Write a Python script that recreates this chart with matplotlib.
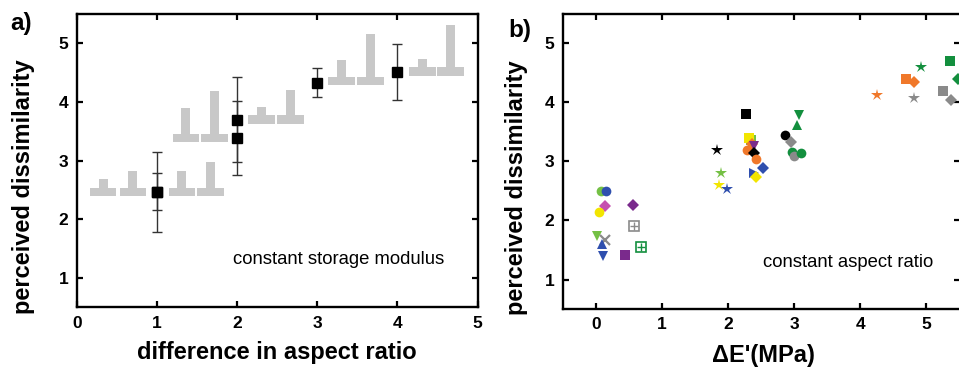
import numpy as np
import matplotlib
matplotlib.use("Agg")
import matplotlib.pyplot as plt

plt.rcParams["font.family"] = ["Liberation Sans", "DejaVu Sans"]

# ── Panel a: constant storage modulus ──────────────────────────────────────
ar_diff = [1, 1, 2, 2, 3, 4]
ar_dissim = [2.47, 2.47, 3.70, 3.38, 4.33, 4.51]
ar_err = [0.68, 0.32, 0.72, 0.63, 0.24, 0.48]

# pictograms of the compared pillar shapes (base centre x, base y, stem top)
shape_x = [0.33, 0.70, 1.31, 1.67, 1.36, 1.72, 2.305, 2.665, 3.305, 3.665, 4.315, 4.665]
shape_y = [2.47, 2.47, 2.47, 2.47, 3.38, 3.38, 3.70, 3.70, 4.35, 4.35, 4.52, 4.52]
shape_top = [2.69, 2.83, 2.83, 2.97, 3.89, 4.19, 3.92, 4.21, 4.72, 5.15, 4.74, 5.32]

# ── Panel b: constant aspect ratio ─────────────────────────────────────────
dE = [0.07, 0.15, 0.13, 0.05, 0.56, 0.57, 0.02, 0.13, 0.09, 0.11, 0.44, 0.68,
      1.84, 1.90, 1.87, 1.98, 2.27, 2.35, 2.32, 2.29, 2.37, 2.39, 2.39, 2.43,
      2.53, 2.40, 2.43,
      2.86, 2.95, 2.97, 3.00, 3.11, 3.07, 3.05,
      4.26, 4.69, 4.81, 4.82, 4.93, 5.25, 5.38, 5.36, 5.48]
dE_dissim = [2.50, 2.50, 2.24, 2.15, 2.27, 1.90, 1.73, 1.67, 1.61, 1.40, 1.41, 1.55,
             3.20, 2.80, 2.60, 2.53, 3.80, 3.36, 3.40, 3.19, 3.30, 3.26, 3.15, 3.05,
             2.89, 2.81, 2.74,
             3.45, 3.33, 3.16, 3.10, 3.15, 3.79, 3.61,
             4.13, 4.40, 4.34, 4.07, 4.60, 4.20, 4.05, 4.70, 4.40]
dE_color = ["lgreen", "blue", "magenta", "yellow", "purple", "gray", "lgreen", "gray",
            "blue", "blue", "purple", "green",
            "black", "lgreen", "yellow", "blue", "black", "lgreen", "yellow", "orange",
            "orange", "purple", "black", "orange", "blue", "blue", "yellow",
            "black", "gray", "green", "gray", "green", "green", "green",
            "orange", "orange", "orange", "gray", "green", "gray", "gray", "green", "green"]
dE_marker = ["o", "o", "D", "o", "D", "grid", "v", "x", "^", "v", "s", "grid",
             "*", "*", "*", "*", "s", "s", "s", "o", "D", "v", "D", "o", "D", ">", "D",
             "o", "D", "o", "o", "o", "v", "^",
             "*", "s", "D", "*", "*", "s", "D", "s", "D"]

palette = {
    "green": "#138f3e", "lgreen": "#74c044", "blue": "#2f4fae", "orange": "#f0782a",
    "yellow": "#f2e500", "magenta": "#c651b0", "purple": "#7a2a8c",
    "gray": "#8a8a8a", "black": "#000000",
}
msize = {"o": 7, "s": 6.5, "D": 6, "^": 7.5, "v": 7.5, ">": 7, "*": 9, "x": 7, "grid": 6.5}

fig = plt.figure(figsize=(9.59, 3.67), dpi=100)
ax_a = fig.add_axes([0.080, 0.163, 0.418, 0.799])
ax_b = fig.add_axes([0.587, 0.158, 0.4145, 0.804])


def style_axes(ax):
    for sp in ax.spines.values():
        sp.set_linewidth(1.7)
    ax.tick_params(direction="in", length=4.5, width=1.6, top=True, right=True,
                   labelsize=12.5, pad=6)
    for lab in ax.get_xticklabels() + ax.get_yticklabels():
        lab.set_fontweight("bold")
    ax.set_ylim(0.5, 5.5)
    ax.set_yticks([1, 2, 3, 4, 5])


# ── a) ──
ax_a.set_xlim(0, 5)
ax_a.set_xticks([0, 1, 2, 3, 4, 5])
gray_shape = "#c8c8c8"
sx = np.array(shape_x)
sy = np.array(shape_y)
st = np.array(shape_top)
ax_a.bar(sx, 0.14, width=0.33, bottom=sy - 0.07, color=gray_shape, zorder=1)
ax_a.bar(sx, st - sy, width=0.11, bottom=sy, color=gray_shape, zorder=1)
ax_a.errorbar(ar_diff, ar_dissim, yerr=ar_err, fmt="s", color="black",
              ecolor="#333333", elinewidth=1, capsize=3.5, capthick=1,
              markersize=7.5, zorder=3)
ax_a.text(1.95, 1.32, "constant storage modulus", fontsize=13.3, va="center", ha="left")
style_axes(ax_a)
ax_a.set_xlabel("difference in aspect ratio", fontsize=17, fontweight="bold")
ax_a.set_ylabel("perceived dissimilarity", fontsize=17, fontweight="bold")
ax_a.xaxis.set_label_coords(0.5, -0.115)
ax_a.yaxis.set_label_coords(-0.105, 0.41)

# ── b) ──
ax_b.set_xlim(-0.5, 5.52)
ax_b.set_xticks([0, 1, 2, 3, 4, 5])
for x, y, c, m in zip(dE, dE_dissim, dE_color, dE_marker):
    col = palette[c]
    if m == "grid":
        ax_b.plot(x, y, "s", markersize=msize[m], markerfacecolor="white",
                  markeredgecolor=col, markeredgewidth=1.2, zorder=3)
        ax_b.plot(x, y, "+", markersize=msize[m] * 0.8, color=col,
                  markeredgewidth=1, zorder=3)
    elif m == "x":
        ax_b.plot(x, y, "x", markersize=msize[m], color=col, markeredgewidth=1.6, zorder=3)
    else:
        ax_b.plot(x, y, m, markersize=msize[m], color=col, markeredgewidth=0, zorder=3)
ax_b.text(2.53, 1.28, "constant aspect ratio", fontsize=13.3, va="center", ha="left")
style_axes(ax_b)
ax_b.set_xlabel("\u0394E'(MPa)", fontsize=17, fontweight="bold")
ax_b.set_ylabel("perceived dissimilarity", fontsize=17, fontweight="bold")
ax_b.xaxis.set_label_coords(0.505, -0.118)
ax_b.yaxis.set_label_coords(-0.088, 0.41)

fig.text(0.022, 0.937, "a)", fontsize=17.5, fontweight="bold", ha="center", va="center")
fig.text(0.542, 0.918, "b)", fontsize=17.5, fontweight="bold", ha="center", va="center")

fig.savefig("out.png", dpi=100)
